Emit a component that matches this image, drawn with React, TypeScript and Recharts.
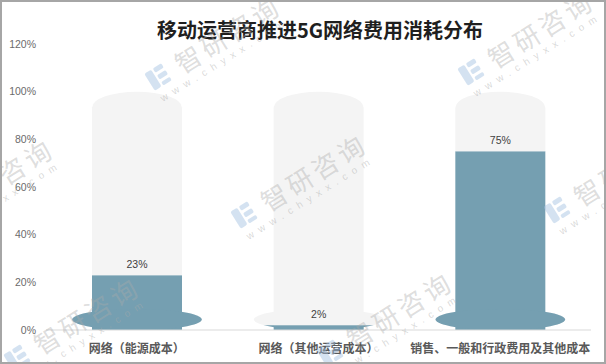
import React from "react";
import { BarChart, Bar, XAxis, YAxis, LabelList } from "recharts";

const categories = ["网络（能源成本）", "网络（其他运营成本）", "销售、一般和行政费用及其他成本"];
const shares = [23, 2, 75];
const fullScale = [100, 100, 100];
const yTicks = [0, 20, 40, 60, 80, 100, 120];
const title = "移动运营商推进5G网络费用消耗分布";
const watermarkName = "智研咨询";
const watermarkSite = "www.chyxx.com";

const data = categories.map((name, i) => ({
  name,
  value: shares[i],
  rest: fullScale[i] - shares[i],
}));

const BLUE = "#759fb1";
const GRAY = "#f4f4f4";
const W = 606;
const H = 364;

const ValueShape = (props: any) => {
  const { x, y, width, height, index } = props;
  const base = y + height;
  const cx = x + width / 2;
  const rx = width * 0.72;
  const ry = 10.5;
  const cy = base - ry;
  const id = `clip-v-${index}`;
  return (
    <g>
      <defs>
        <clipPath id={id}>
          <rect x={cx - rx - 2} y={y} width={2 * rx + 4} height={height + 4} />
        </clipPath>
      </defs>
      <ellipse cx={cx} cy={cy} rx={rx} ry={ry} fill={GRAY} />
      <rect x={x} y={y} width={width} height={height} fill={BLUE} />
      <ellipse cx={cx} cy={cy} rx={rx} ry={ry} fill={BLUE} clipPath={`url(#${id})`} />
    </g>
  );
};

const RestShape = (props: any) => {
  const { x, y, width, height } = props;
  const cap = 16;
  const rx = width / 2;
  const bottom = y + height;
  const d = `M${x},${bottom} L${x},${y + cap} A${rx},${cap} 0 0 1 ${x + width},${y + cap} L${x + width},${bottom} Z`;
  return <path d={d} fill={GRAY} />;
};

const Watermark = ({ x, y }: { x: number; y: number }) => (
  <g transform={`translate(${x},${y}) rotate(-32)`}>
    <g fill="rgba(160,190,225,0.45)">
      <rect x={-10} y={-10} width={8} height={20} rx={2} />
      <rect x={0} y={-10} width={10} height={5} rx={1.5} />
      <rect x={0} y={-2} width={10} height={5} rx={1.5} />
      <rect x={0} y={6} width={10} height={4} rx={1.5} />
    </g>
    <text
      x={22}
      y={11}
      fontSize={26}
      letterSpacing={4}
      fontFamily="'Noto Sans CJK SC', sans-serif"
      fill="rgba(170,170,170,0.4)"
    >
      {watermarkName}
    </text>
    <text
      x={-9}
      y={24}
      fontSize={10}
      letterSpacing={6}
      fontFamily="'Liberation Sans', sans-serif"
      fill="rgba(170,170,170,0.45)"
    >
      {watermarkSite}
    </text>
  </g>
);

const wmOrigin = [158, 77];
const wmA = [313, -5];
const wmB = [86, 138];
const wmSteps = [
  [0, 0],
  [1, 0],
  [-1, 1],
  [0, 1],
  [1, 1],
  [-1, 2],
  [0, 2],
];

export default function App() {
  return (
    <div style={{ position: "absolute", left: 0, top: 0, width: W, height: H, background: "#fff" }}>
      <BarChart
        width={W}
        height={H}
        data={data}
        margin={{ top: 44, right: 15, left: 0, bottom: 4 }}
        barSize={90}
      >
        <XAxis
          dataKey="name"
          axisLine={{ stroke: "#d9d9d9" }}
          tickLine={false}
          tickMargin={8}
          interval={0}
          tick={{ fontSize: 12, fontWeight: 700, fill: "#595959", fontFamily: "'Noto Sans CJK SC', sans-serif" }}
        />
        <YAxis
          width={46}
          domain={[0, 120]}
          ticks={yTicks}
          interval={0}
          axisLine={false}
          tickLine={false}
          tickMargin={4}
          tickFormatter={(v: number) => `${v}%`}
          tick={{ fontSize: 10.5, fill: "#6b6b6b", fontFamily: "'Liberation Sans', sans-serif" }}
        />
        <Bar dataKey="value" stackId="s" shape={<ValueShape />} isAnimationActive={false} />
        <Bar dataKey="rest" stackId="s" shape={<RestShape />} isAnimationActive={false}>
          <LabelList
            dataKey="value"
            position="insideBottom"
            offset={7}
            formatter={(v: any) => `${v}%`}
            style={{ fontSize: 10.5, fill: "#404040", fontFamily: "'Liberation Sans', sans-serif" }}
          />
        </Bar>
      </BarChart>
      <svg
        width={W}
        height={H}
        style={{ position: "absolute", left: 0, top: 0, pointerEvents: "none" }}
      >
        <text
          x={320}
          y={38}
          textAnchor="middle"
          fontSize={20}
          fontWeight={700}
          fill="#1f1f1f"
          fontFamily="'Noto Sans CJK SC', sans-serif"
        >
          {title}
        </text>
        {wmSteps.map(([i, j], k) => (
          <Watermark
            key={k}
            x={wmOrigin[0] + i * wmA[0] + j * wmB[0]}
            y={wmOrigin[1] + i * wmA[1] + j * wmB[1]}
          />
        ))}
        <rect x={1} y={1} width={W - 2} height={H - 2} fill="none" stroke="#a6a6a6" strokeWidth={2} />
      </svg>
    </div>
  );
}
